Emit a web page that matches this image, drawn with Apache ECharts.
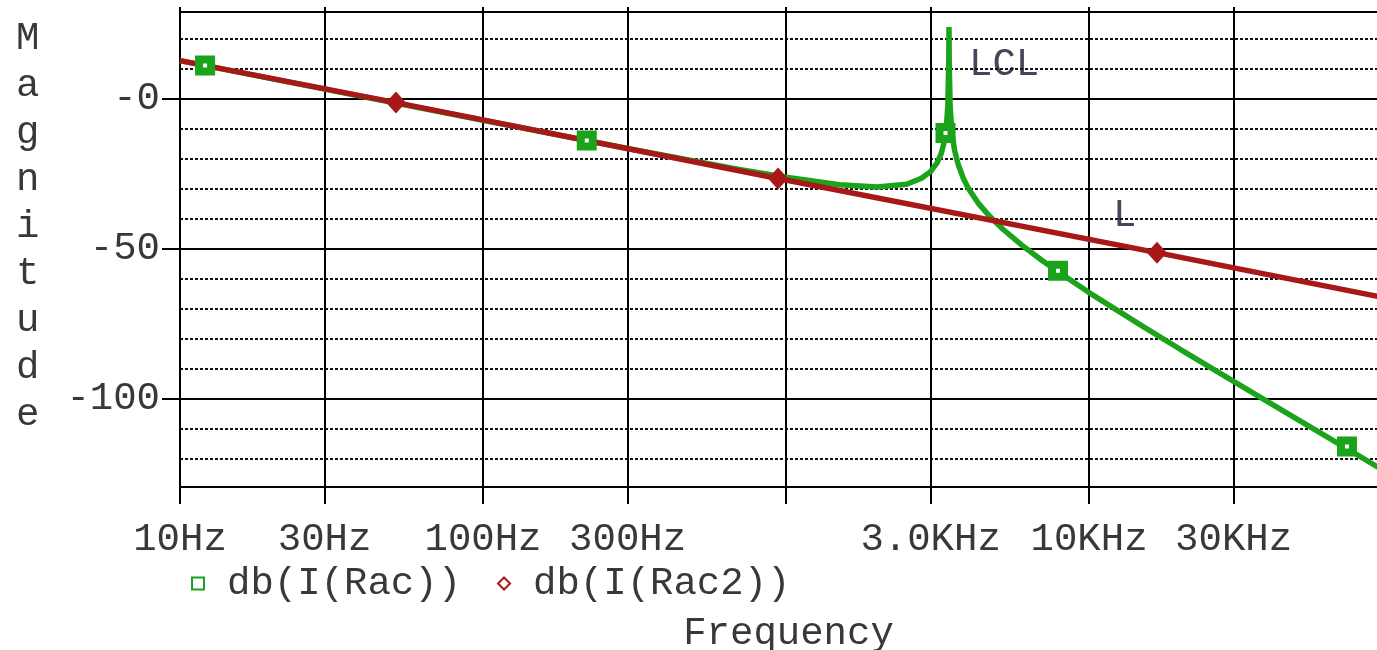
<!DOCTYPE html>
<html>
<head>
<meta charset="utf-8">
<script src="https://cdn.jsdelivr.net/npm/echarts@6/dist/echarts.min.js"></script>
<style>
html, body { margin: 0; padding: 0; background: #fff; }
#chart { width: 1377px; height: 650px; }
</style>
</head>
<body>
<div id="chart"></div>
<script>
// axis ticks
const freqTicks = [10, 30, 100, 300, 1000, 3000, 10000, 30000];
const freqTickLabels = ['10Hz', '30Hz', '100Hz', '300Hz', '', '3.0KHz', '10KHz', '30KHz'];
const dbTicks = [0, -50, -100];
const dbTickLabels = ['-0', '-50', '-100'];
const dbMinorTicks = [20, 10, -10, -20, -30, -40, -60, -70, -80, -90, -110, -120];

// db(I(Rac)) - LCL filter
const lclFreq = [10, 30, 100, 300, 700, 1000, 1500, 2000, 2500, 2800, 3000, 3150, 3250, 3330, 3380, 3420, 3445, 3450,
    3455, 3480, 3530, 3600, 3700, 3850, 4000, 4300, 4700, 5200, 6000, 7000, 8000, 10000, 15000, 20000, 30000, 50000, 71000, 100000];
const lclDb = [12.8, 3.3, -7.1, -16.5, -23.5, -26.1, -28.6, -29.3, -28.4, -26.4, -24.2, -21.3, -18.3, -14.1, -9.6, -2.3, 13, 24,
    13, -2.6, -11.3, -17.1, -21.8, -26.5, -29.8, -34.6, -39.1, -43.4, -48.7, -53.8, -57.9, -64.5, -75.7, -83.4, -94.1, -107.4, -116.5, -125.5];
const lclMarkFreq = [12.1, 220, 3360, 7900, 71000];
const lclMarkDb = [11.2, -13.8, -11.3, -57.2, -115.8];

// db(I(Rac2)) - L filter
const lFreq = [10, 51.6, 941, 16760, 100000];
const lDb = [12.8, -1.2, -26.5, -51.2, -66.7];
const lMarkFreq = [51.6, 941, 16760];
const lMarkDb = [-1.2, -26.5, -51.2];

const green = '#1ca31c';
const red = '#a81818';
const font = 'Liberation Mono';
const txt = '#383838';

const pair = (xs, ys) => xs.map((x, i) => [x, ys[i]]);
const freqLabel = v => {
    const i = freqTicks.findIndex(t => Math.abs(t - v) / t < 1e-6);
    return i < 0 ? '' : freqTickLabels[i];
};
const dbLabel = v => {
    const i = dbTicks.indexOf(Math.round(v));
    return i < 0 ? '' : dbTickLabels[i];
};
const blackLine = { color: '#000', width: 2 };

const chart = echarts.init(document.getElementById('chart'));
chart.setOption({
    animation: false,
    backgroundColor: '#fff',
    grid: { left: 180, right: 0, top: 12, bottom: 163, outerBoundsMode: 'none', containLabel: false },
    legend: {
        left: 186, top: 559, itemGap: 36, itemWidth: 12, itemHeight: 12,
        textStyle: { fontFamily: font, fontSize: 39, color: txt, padding: [0, 0, 0, 18] },
        data: [
            { name: 'db(I(Rac))', icon: 'rect', itemStyle: { color: '#fff', borderColor: green, borderWidth: 2 } },
            { name: 'db(I(Rac2))', icon: 'diamond', itemStyle: { color: '#fff', borderColor: red, borderWidth: 2 } }
        ]
    },
    xAxis: [
        {
            type: 'log', logBase: 10, min: 10, max: 89200,
            axisLine: { show: true, onZero: false, lineStyle: blackLine },
            axisTick: { show: true, customValues: freqTicks, length: 17, lineStyle: blackLine },
            axisLabel: { customValues: freqTicks, formatter: freqLabel, margin: 33, fontFamily: font, fontSize: 39, color: txt },
            splitLine: { show: true, lineStyle: blackLine },
            name: 'Frequency', nameLocation: 'middle', nameGap: 127,
            nameTextStyle: { fontFamily: font, fontSize: 39, color: txt, padding: [0, 0, 0, 20] }
        },
        {
            type: 'log', logBase: 10, min: 10, max: 89200, position: 'top',
            axisLine: { show: true, onZero: false, lineStyle: blackLine },
            axisTick: { show: true, customValues: freqTicks, length: 5, lineStyle: blackLine },
            axisLabel: { show: false },
            splitLine: { show: false }
        }
    ],
    yAxis: [
        {
            type: 'value', min: -129.3, max: 29, position: 'right',
            axisLine: { show: false, onZero: false },
            axisTick: { show: false, customValues: dbMinorTicks },
            axisLabel: { show: false },
            splitLine: { show: true, lineStyle: { color: '#111', width: 2, type: [3, 2] } }
        },
        {
            type: 'value', min: -129.3, max: 29, position: 'left',
            axisLine: { show: true, onZero: false, lineStyle: blackLine },
            axisTick: { show: true, customValues: dbTicks, length: 18, lineStyle: blackLine },
            axisLabel: { customValues: dbTicks, formatter: dbLabel, margin: 20, fontFamily: font, fontSize: 39, color: txt },
            splitLine: { show: true, lineStyle: blackLine }
        }
    ],
    graphic: [
        { type: 'text', left: 16, top: 15, style: { text: 'M\na\ng\nn\ni\nt\nu\nd\ne', font: '39px "Liberation Mono"', lineHeight: 47, fill: txt, align: 'center' } },
        { type: 'text', left: 969, top: 45, style: { text: 'LCL', font: '39px "Liberation Mono"', fill: '#44445a' } },
        { type: 'text', left: 1113, top: 196, style: { text: 'L', font: '39px "Liberation Mono"', fill: '#44445a' } }
    ],
    series: [
        {
            name: 'db(I(Rac))', type: 'line', data: pair(lclFreq, lclDb), symbol: 'none', z: 2,
            lineStyle: { color: green, width: 5.5 }, itemStyle: { color: green }
        },
        {
            name: 'db(I(Rac2))', type: 'line', data: pair(lFreq, lDb), symbol: 'none', z: 3,
            lineStyle: { color: red, width: 5.5 }, itemStyle: { color: red }
        },
        {
            name: 'db(I(Rac))', type: 'scatter', data: pair(lclMarkFreq, lclMarkDb), symbol: 'rect', symbolSize: 12, z: 4,
            itemStyle: { color: '#fff', borderColor: green, borderWidth: 8, opacity: 1 }
        },
        {
            name: 'db(I(Rac2))', type: 'scatter', data: pair(lMarkFreq, lMarkDb), symbol: 'diamond', symbolSize: [20, 22], z: 5,
            itemStyle: { color: red, opacity: 1 }
        }
    ]
});
</script>
</body>
</html>
